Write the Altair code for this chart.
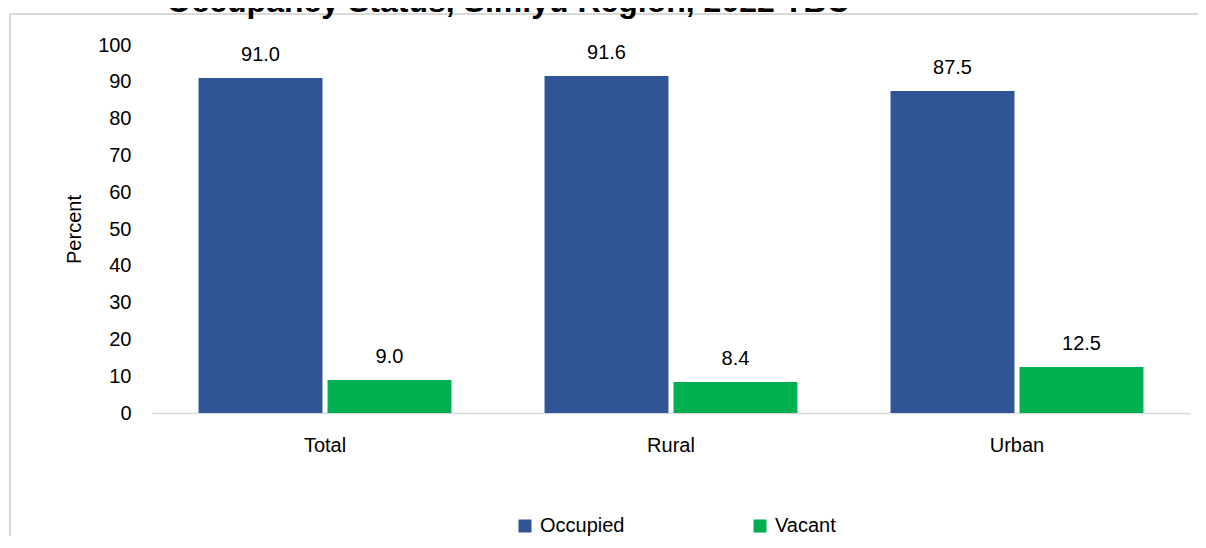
import altair as alt
import pandas as pd

areas = ["Total", "Rural", "Urban"]
statuses = ["Occupied", "Vacant"]
occupied = [91.0, 91.6, 87.5]
vacant = [9.0, 8.4, 12.5]
colors = ["#2F5597", "#00B050"]
y_ticks = [0, 10, 20, 30, 40, 50, 60, 70, 80, 90, 100]
title_text = "Occupancy Status, Simiyu Region, 2022 TBC"

rows = []
for i, a in enumerate(areas):
    rows.append({"Area": a, "Status": "Occupied", "Percent": occupied[i]})
    rows.append({"Area": a, "Status": "Vacant", "Percent": vacant[i]})
df = pd.DataFrame(rows)

FONT = "Liberation Sans, Arial"
FS = 20

x_enc = alt.X("Area:N", sort=areas,
              scale=alt.Scale(paddingInner=0.269, paddingOuter=0.1345),
              axis=alt.Axis(title=None, labelAngle=0, ticks=False, domainColor="#D9D9D9",
                            domainWidth=1.5, labelPadding=22, labelFontSize=FS,
                            labelColor="#000000", labelFont=FONT))
xoff_enc = alt.XOffset("Status:N", sort=statuses,
                       scale=alt.Scale(paddingInner=0.039, paddingOuter=0))
y_enc = alt.Y("Percent:Q", scale=alt.Scale(domain=[0, 100], nice=False),
              axis=alt.Axis(title="Percent", values=y_ticks, tickCount=11, domain=False,
                            ticks=False, grid=False, labelOverlap=False, labelPadding=21,
                            labelFontSize=FS, labelColor="#000000", labelFont=FONT,
                            titleFont=FONT, titleFontSize=FS, titleFontWeight="normal",
                            titleColor="#000000", titlePadding=13))
color_enc = alt.Color("Status:N", sort=statuses,
                      scale=alt.Scale(domain=statuses, range=colors),
                      legend=alt.Legend(title=None, orient="none", direction="horizontal",
                                        legendX=363, legendY=471, symbolType="square",
                                        symbolSize=169, symbolStrokeWidth=0, labelFontSize=FS,
                                        labelFont=FONT, labelColor="#000000", labelOffset=5,
                                        columnPadding=125, padding=0))

bars = alt.Chart(df).mark_bar().encode(x=x_enc, xOffset=xoff_enc, y=y_enc, color=color_enc)

labels = alt.Chart(df).mark_text(baseline="alphabetic", dy=-17, fontSize=FS, font=FONT,
                                 color="#000000").encode(
    x=x_enc, xOffset=xoff_enc, y=y_enc, text=alt.Text("Percent:Q", format=".1f"))

deco = pd.DataFrame({"t": [title_text]})
frame_left = alt.Chart(deco).mark_rule(color="#D9D9D9", strokeWidth=2).encode(
    x=alt.value(-142), y=alt.value(-31), y2=alt.value(520))
frame_top = alt.Chart(deco).mark_rule(color="#D9D9D9", strokeWidth=2).encode(
    x=alt.value(-142), x2=alt.value(1060), y=alt.value(-31))
title = alt.Chart(deco).mark_text(font=FONT, fontSize=32, fontWeight="bold",
                                  baseline="alphabetic", align="center", color="#000000").encode(
    x=alt.value(356), y=alt.value(-33), text="t:N")

chart = alt.layer(frame_left, frame_top, bars, labels, title).properties(
    width=1038, height=368,
    autosize=alt.AutoSizeParams(type="none"),
    padding={"left": 144, "top": 37, "right": 8, "bottom": 123},
    background="#FFFFFF"
).configure_view(stroke=None)

chart.save("out.html", embed_options={"renderer": "svg", "actions": False})
